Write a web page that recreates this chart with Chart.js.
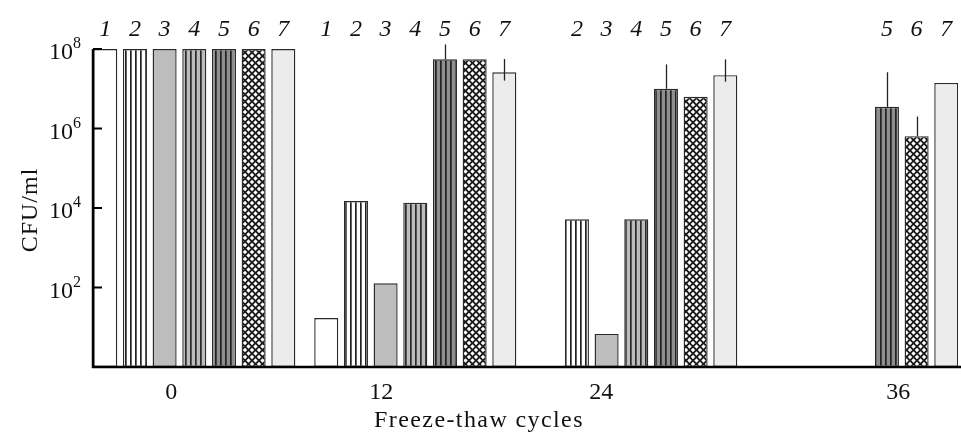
<!DOCTYPE html>
<html>
<head>
<meta charset="utf-8">
<script src="https://cdn.jsdelivr.net/npm/chart.js@4.4.1/dist/chart.umd.min.js"></script>
<style>
  html, body { margin: 0; background: #fff; }
  #wrap { width: 961px; height: 432px; }
</style>
</head>
<body>
<div id="wrap"><canvas id="chart"></canvas></div>
<script>
// data
const cycles = [0, 12, 24, 36];
const strainLabels = ['1', '2', '3', '4', '5', '6', '7'];
const s1 = [1e8, 17, null, null];
const s2 = [1e8, 1.5e4, 5.2e3, null];
const s3 = [1e8, 127, 6.8, null];
const s4 = [1e8, 1.35e4, 5.2e3, null];
const s5 = [1e8, 5.5e7, 1.0e7, 3.5e6];
const s6 = [1e8, 5.5e7, 6.3e6, 6.4e5];
const s7 = [1e8, 2.6e7, 2.2e7, 1.4e7];
// error bar ends (null = no bar)
const err5Hi = [null, 1.3e8, 4.1e7, 2.6e7];
const err6Hi = [null, null, null, 2.0e6];
const err7Hi = [null, 5.6e7, 5.5e7, null];
const err7Lo = [null, 1.6e7, 1.5e7, null];
const yExponents = [2, 4, 6, 8];

const serif = '"Liberation Serif", "DejaVu Serif", serif';

function stripes(bg, fg) {
  const c = document.createElement('canvas');
  c.width = 5; c.height = 5;
  const g = c.getContext('2d');
  g.fillStyle = bg; g.fillRect(0, 0, 5, 5);
  g.fillStyle = fg; g.fillRect(0, 0, 1.7, 5);
  return g.createPattern(c, 'repeat');
}

function hatch() {
  const c = document.createElement('canvas');
  c.width = 7; c.height = 7;
  const g = c.getContext('2d');
  g.fillStyle = '#1a1a1a'; g.fillRect(0, 0, 7, 7);
  g.fillStyle = '#fff';
  const diamond = (cx, cy, r) => {
    g.beginPath();
    g.moveTo(cx, cy - r); g.lineTo(cx + r, cy); g.lineTo(cx, cy + r); g.lineTo(cx - r, cy);
    g.closePath(); g.fill();
  };
  diamond(3.5, 3.5, 2.2);
  [[0, 0], [7, 0], [0, 7], [7, 7]].forEach(p => diamond(p[0], p[1], 2.2));
  return g.createPattern(c, 'repeat');
}

const fills = [
  '#ffffff',
  stripes('#ffffff', '#222'),
  '#bdbdbd',
  stripes('#bcbcbc', '#2a2a2a'),
  stripes('#8e8e8e', '#222'),
  hatch(),
  '#ececec'
];

const series = [s1, s2, s3, s4, s5, s6, s7];
const errors = [
  null, null, null, null,
  { hi: err5Hi, lo: null },
  { hi: err6Hi, lo: null },
  { hi: err7Hi, lo: err7Lo }
];

const tickShift = [-23, -34, -35, 41];

const decor = {
  id: 'decor',
  afterDatasetsDraw(chart) {
    const { ctx, chartArea: a, scales: { x, y } } = chart;
    ctx.save();

    // error bars
    ctx.strokeStyle = '#222';
    ctx.lineWidth = 1.3;
    chart.data.datasets.forEach((ds, di) => {
      const e = errors[di];
      if (!e) return;
      const meta = chart.getDatasetMeta(di);
      meta.data.forEach((bar, i) => {
        if (e.hi[i] == null) return;
        const top = y.getPixelForValue(e.hi[i]);
        const bot = e.lo && e.lo[i] != null ? y.getPixelForValue(e.lo[i]) : bar.y;
        ctx.beginPath();
        ctx.moveTo(Math.round(bar.x) + 0.5, top);
        ctx.lineTo(Math.round(bar.x) + 0.5, bot);
        ctx.stroke();
      });
    });

    // strain numbers over the bars
    ctx.fillStyle = '#111';
    ctx.font = 'italic 24px ' + serif;
    ctx.textAlign = 'center';
    ctx.textBaseline = 'alphabetic';
    chart.data.datasets.forEach((ds, di) => {
      const meta = chart.getDatasetMeta(di);
      meta.data.forEach((bar, i) => {
        if (series[di][i] == null) return;
        ctx.fillText(strainLabels[di], bar.x, 36);
      });
    });

    // axes
    ctx.strokeStyle = '#000';
    ctx.lineWidth = 2.5;
    ctx.beginPath();
    ctx.moveTo(a.left, a.top);
    ctx.lineTo(a.left, a.bottom);
    ctx.lineTo(chart.width, a.bottom);
    ctx.stroke();

    ctx.lineWidth = 2.2;
    ctx.beginPath();
    yExponents.forEach(ex => {
      const py = y.getPixelForValue(Math.pow(10, ex));
      ctx.moveTo(a.left, py);
      ctx.lineTo(a.left + 9, py);
    });
    ctx.stroke();

    // y tick labels 10^n
    ctx.textAlign = 'left';
    yExponents.forEach(ex => {
      const py = y.getPixelForValue(Math.pow(10, ex));
      ctx.font = '24px ' + serif;
      ctx.fillText('10', 49, py + 10);
      ctx.font = '16px ' + serif;
      ctx.fillText(String(ex), 73, py - 1);
    });

    // x tick labels
    ctx.font = '24px ' + serif;
    ctx.textAlign = 'center';
    cycles.forEach((c, i) => {
      ctx.fillText(String(c), x.getPixelForValue(c) + tickShift[i], 399);
    });

    // axis titles
    ctx.letterSpacing = '1.4px';
    ctx.fillText('Freeze-thaw cycles', 479, 427);
    ctx.translate(37, 210);
    ctx.rotate(-Math.PI / 2);
    ctx.letterSpacing = '1px';
    ctx.fillText('CFU/ml', 0, 0);

    ctx.restore();
  }
};

const datasets = series.map((vals, i) => ({
  label: strainLabels[i],
  data: cycles.map((c, j) => ({ x: c, y: vals[j] })),
  backgroundColor: fills[i],
  borderColor: '#2a2a2a',
  borderWidth: 1.4,
  borderSkipped: false,
  categoryPercentage: 0.94,
  barPercentage: 0.81
}));

new Chart(document.getElementById('chart'), {
  type: 'bar',
  data: { datasets: datasets },
  options: {
    responsive: true,
    maintainAspectRatio: false,
    animation: false,
    layout: { padding: { left: 93, right: 3, top: 49, bottom: 65 } },
    plugins: { legend: { display: false }, tooltip: { enabled: false } },
    scales: {
      x: {
        type: 'linear', min: -5.5, max: 41.47, offset: false, display: false,
        afterBuildTicks: scale => { scale.ticks = cycles.map(v => ({ value: v })); }
      },
      y: { type: 'logarithmic', min: 1, max: 1e8, display: false }
    }
  },
  plugins: [decor]
});
</script>
</body>
</html>
